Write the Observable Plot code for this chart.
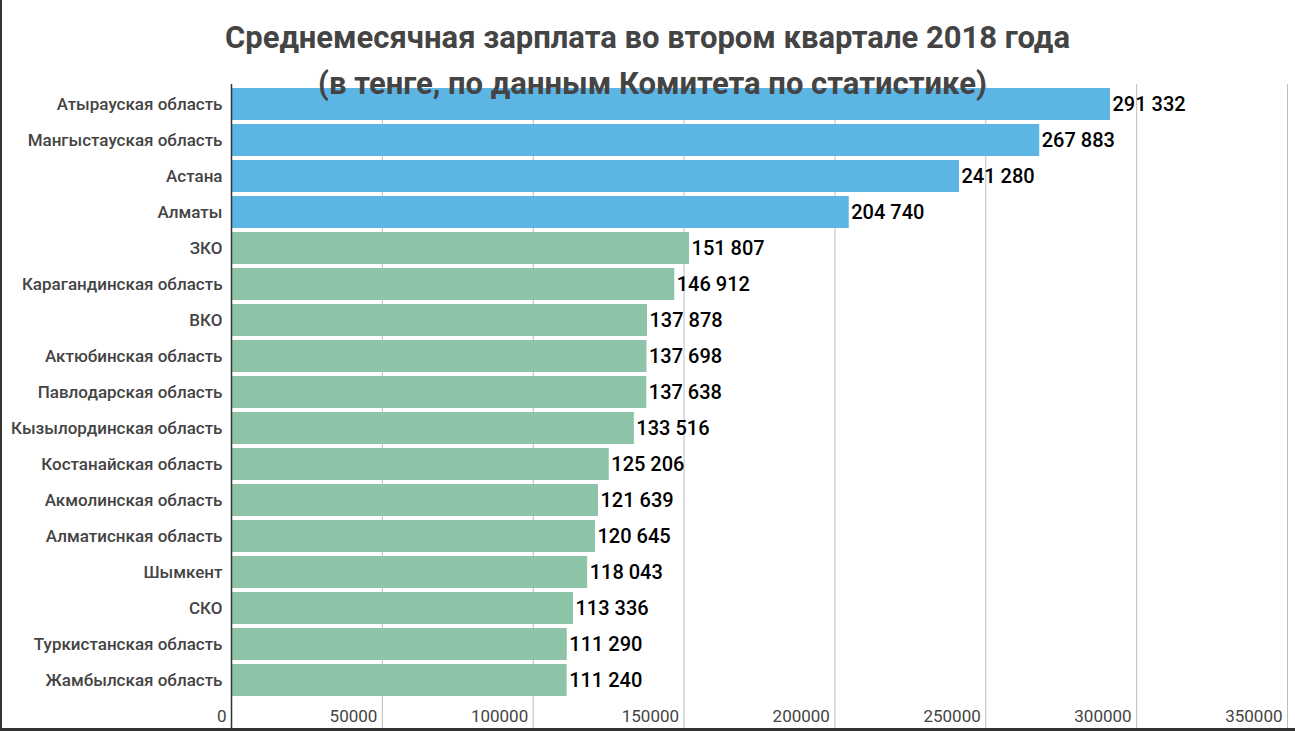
<!DOCTYPE html>
<html>
<head>
<meta charset="utf-8">
<script src="https://cdn.jsdelivr.net/npm/d3@7"></script>
<script src="https://cdn.jsdelivr.net/npm/@observablehq/plot@0.6"></script>
<style>
  html, body { margin: 0; padding: 0; background: #fff; }
  #wrap { position: relative; width: 1295px; height: 731px; overflow: hidden; font-family: Roboto, "Noto Sans", sans-serif; }
  #title { position: absolute; left: 0; top: 15px; width: 1295px; text-align: center; font-size: 31px; font-weight: 700; color: #444; line-height: 46px; pointer-events: none; z-index: 2; }
  #title div:first-child { padding-right: 0px; }
  #title div:nth-child(2) { padding-left: 10px; }
  #bl { position: absolute; left: 0; top: 0; width: 2px; height: 731px; background: #333; z-index: 3; }
  #bb { position: absolute; left: 0; top: 728px; width: 1295px; height: 3px; background: #333; z-index: 3; }
</style>
</head>
<body>
<div id="wrap">
  <div id="title"><div>Среднемесячная зарплата во втором квартале 2018 года</div><div>(в тенге, по данным Комитета по статистике)</div></div>
  <div id="bl"></div>
  <div id="bb"></div>
</div>
<script>
const regions = [
  "Атырауская область", "Мангыстауская область", "Астана", "Алматы", "ЗКО",
  "Карагандинская область", "ВКО", "Актюбинская область", "Павлодарская область",
  "Кызылординская область", "Костанайская область", "Акмолинская область",
  "Алматиснкая область", "Шымкент", "СКО", "Туркистанская область", "Жамбылская область"
];
const salaries = [291332, 267883, 241280, 204740, 151807, 146912, 137878, 137698, 137638,
  133516, 125206, 121639, 120645, 118043, 113336, 111290, 111240];
const groups = ["top", "top", "top", "top", "other", "other", "other", "other", "other",
  "other", "other", "other", "other", "other", "other", "other", "other"];
const xTicks = [0, 50000, 100000, 150000, 200000, 250000, 300000, 350000];

const data = regions.map((r, i) => ({region: r, value: salaries[i], group: groups[i]}));
const fmt = d3.formatLocale({thousands: "\u00a0", grouping: [3], decimal: ","}).format(",");

const chart = Plot.plot({
  width: 1295,
  height: 731,
  marginTop: 84,
  marginBottom: 30,
  marginLeft: 231,
  marginRight: 8,
  style: {fontFamily: "Roboto, 'Noto Sans', sans-serif", background: "transparent"},
  x: {domain: [0, 350000], ticks: xTicks},
  y: {domain: regions, padding: 0.1, label: null},
  color: {domain: ["top", "other"], range: ["#5db5e4", "#8dc3a7"]},
  marks: [
    Plot.ruleX(xTicks.slice(1), {x: d => d, stroke: "#bdbdbd", strokeWidth: 1, insetBottom: -27}),
    Plot.barX(data, {x: "value", y: "region", fill: "group"}),
    Plot.ruleX([0], {stroke: "#333", strokeWidth: 1.5, insetBottom: -27}),
    Plot.axisY({tickSize: 0, tickPadding: 9, fontSize: 17, fontWeight: 500, fill: "#444", label: null}),
    Plot.axisX(xTicks, {tickSize: 0, tickPadding: 8, fontSize: 17, fill: "#444", textAnchor: "end", dx: -5, tickFormat: d => String(d), label: null}),
    Plot.text(data, {x: "value", y: "region", text: d => fmt(d.value), textAnchor: "start", dx: 2, fontSize: 20, fontWeight: 500, fill: "#000"})
  ]
});
chart.style.position = "absolute";
chart.style.left = "0";
chart.style.top = "0";
document.getElementById("wrap").appendChild(chart);
</script>
</body>
</html>
